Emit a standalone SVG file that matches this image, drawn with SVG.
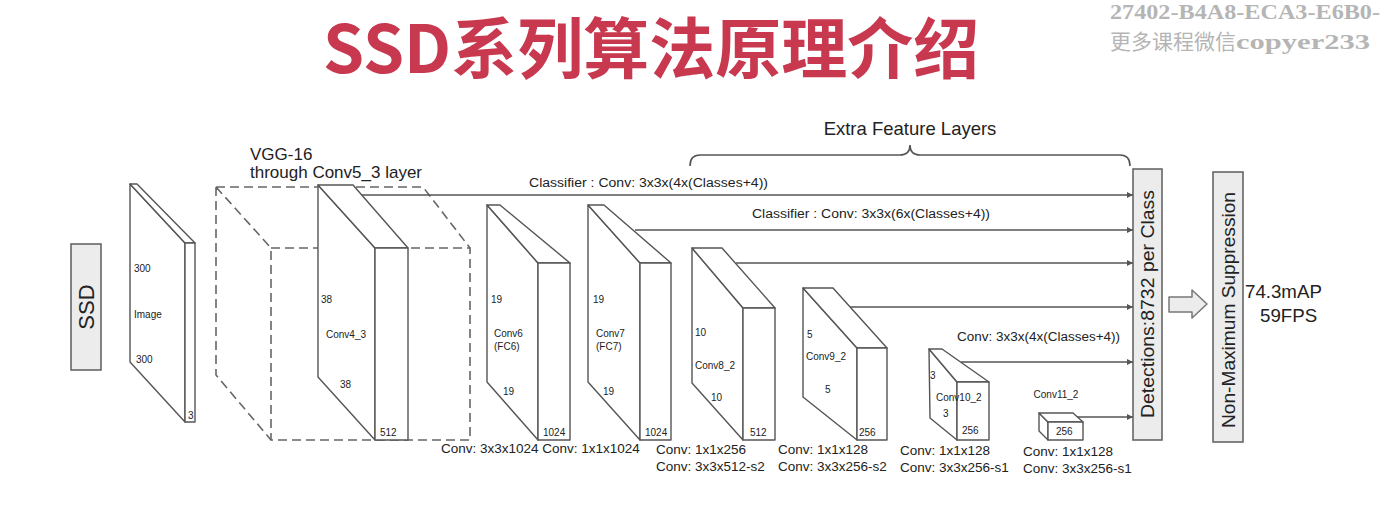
<svg xmlns="http://www.w3.org/2000/svg" width="1385" height="515" viewBox="0 0 1385 515">
  <style>
    .face { fill: #ffffff; stroke: #555; stroke-width: 1.4; stroke-linejoin: round; }
    .dash { fill: none; stroke: #666; stroke-width: 1.6; stroke-dasharray: 9 5; }
    .wire { fill: none; stroke: #555; stroke-width: 1.6; }
    .box { fill: #ececec; stroke: #666; stroke-width: 1.6; }
    .sm { font-family: "Liberation Sans", Arial, sans-serif; font-size: 10px; fill: #222; }
    .lbl { font-family: "Liberation Sans", Arial, sans-serif; font-size: 13.5px; fill: #222; }
    .cls { font-family: "Liberation Sans", Arial, sans-serif; font-size: 12px; fill: #222; }
    .big { font-family: "Liberation Sans", Arial, sans-serif; font-size: 18.7px; fill: #222; }
  </style>
  <defs>
    <marker id="arr" viewBox="0 0 10 10" refX="10" refY="5" markerWidth="7" markerHeight="6" markerUnits="userSpaceOnUse" orient="auto">
      <path d="M0,0 L10,5 L0,10 z" fill="#555"/>
    </marker>
  </defs>

  <rect width="1385" height="515" fill="#ffffff"/>

  <!-- heading -->
  <g id="title">
    <text x="323" y="73" font-family="'Noto Sans CJK SC', sans-serif" font-weight="700" font-size="66" fill="#c8384f">SSD系列算法原理介绍</text>
  </g>

  <!-- corner mark -->
  <g id="watermark" fill="#b5b5b5" font-weight="700">
    <text x="1110" y="19" font-family="'Liberation Serif', serif" font-size="22" textLength="270" lengthAdjust="spacingAndGlyphs">27402-B4A8-ECA3-E6B0-</text>
    <text x="1110" y="49" font-family="'Noto Sans CJK SC', sans-serif" font-weight="400" font-size="21">更多课程微信</text>
    <text x="1236" y="49" font-family="'Liberation Serif', serif" font-size="22" textLength="134" lengthAdjust="spacingAndGlyphs">copyer233</text>
  </g>

  <!-- SSD label box -->
  <g id="node-ssd">
    <rect class="box" x="71" y="244" width="30" height="126"/>
    <text transform="translate(94,307) rotate(-90)" text-anchor="middle" font-family="'Liberation Sans', Arial, sans-serif" font-size="22" fill="#222">SSD</text>
  </g>

  <!-- input image slab -->
  <g id="node-image">
    <polygon class="face" points="130,184 185,243 185,422 130,362"/>
    <polygon class="face" points="130,184 137,184 195,243 185,243"/>
    <rect class="face" x="185" y="243" width="10" height="179"/>
    <text class="sm" x="134" y="272">300</text>
    <text class="sm" x="134" y="318">Image</text>
    <text class="sm" x="136" y="363">300</text>
    <text class="sm" x="188" y="419">3</text>
  </g>

  <!-- VGG-16 base network -->
  <g id="node-vgg">
    <path class="dash" d="M216,187 L423,187 L470,248 M216,187 L271,248 M216,187 L216,375 L271,440"/>
    <rect class="dash" x="271" y="248" width="199" height="192"/>
    <text x="250" y="160" font-family="'Liberation Sans', Arial, sans-serif" font-size="17" fill="#222">VGG-16</text>
    <text x="250" y="178" font-family="'Liberation Sans', Arial, sans-serif" font-size="17" fill="#222">through Conv5_3 layer</text>
  </g>

  <g id="node-conv4_3">
    <polygon class="face" points="318,185 375,248 375,440 318,377"/>
    <polygon class="face" points="318,185 353,185 408,248 375,248"/>
    <rect class="face" x="375" y="248" width="33" height="192"/>
    <text class="sm" x="321" y="303">38</text>
    <text class="sm" x="326" y="338">Conv4_3</text>
    <text class="sm" x="340" y="388">38</text>
    <text class="sm" x="380" y="436">512</text>
  </g>

  <g id="node-conv6">
    <polygon class="face" points="487,205 538,263 538,440 487,382"/>
    <polygon class="face" points="487,205 500,205 570,263 538,263"/>
    <rect class="face" x="538" y="263" width="32" height="177"/>
    <text class="sm" x="491" y="303">19</text>
    <text class="sm" x="494" y="337">Conv6</text>
    <text class="sm" x="494" y="350">(FC6)</text>
    <text class="sm" x="503" y="395">19</text>
    <text class="sm" x="543" y="436">1024</text>
  </g>

  <g id="node-conv7">
    <polygon class="face" points="588,205 640,263 640,440 588,382"/>
    <polygon class="face" points="588,205 604,205 671,263 640,263"/>
    <rect class="face" x="640" y="263" width="31" height="177"/>
    <text class="sm" x="593" y="303">19</text>
    <text class="sm" x="596" y="337">Conv7</text>
    <text class="sm" x="596" y="350">(FC7)</text>
    <text class="sm" x="603" y="395">19</text>
    <text class="sm" x="645" y="436">1024</text>
  </g>

  <g id="node-conv8_2">
    <polygon class="face" points="692,248 743,308 743,440 692,383"/>
    <polygon class="face" points="692,248 722,248 775,308 743,308"/>
    <rect class="face" x="743" y="308" width="32" height="132"/>
    <text class="sm" x="695" y="336">10</text>
    <text class="sm" x="695" y="369">Conv8_2</text>
    <text class="sm" x="711" y="401">10</text>
    <text class="sm" x="750" y="436">512</text>
  </g>

  <g id="node-conv9_2">
    <polygon class="face" points="803,288 857,348 857,440 803,397"/>
    <polygon class="face" points="803,288 833,288 887,348 857,348"/>
    <rect class="face" x="857" y="348" width="30" height="92"/>
    <text class="sm" x="807" y="338">5</text>
    <text class="sm" x="806" y="360">Conv9_2</text>
    <text class="sm" x="825" y="393">5</text>
    <text class="sm" x="859" y="436">256</text>
  </g>

  <g id="node-conv10_2">
    <polygon class="face" points="929,349 957,382 957,440 930,418"/>
    <polygon class="face" points="929,349 942,349 989,382 957,382"/>
    <rect class="face" x="957" y="382" width="32" height="58"/>
    <text class="sm" x="930" y="379">3</text>
    <text class="sm" x="936" y="401">Conv10_2</text>
    <text class="sm" x="943" y="417">3</text>
    <text class="sm" x="962" y="434">256</text>
  </g>

  <g id="node-conv11_2">
    <polygon class="face" points="1039,413 1048,422 1048,440 1039,431"/>
    <polygon class="face" points="1039,413 1073,413 1083,422 1048,422"/>
    <rect class="face" x="1048" y="422" width="35" height="18"/>
    <text class="sm" x="1056" y="398" text-anchor="middle">Conv11_2</text>
    <text class="sm" x="1056" y="435">256</text>
  </g>

  <!-- detection collector and NMS -->
  <g id="node-detections">
    <rect class="box" x="1133" y="169" width="29" height="271"/>
    <text class="big" transform="translate(1154,304) rotate(-90)" text-anchor="middle" textLength="228" lengthAdjust="spacingAndGlyphs">Detections:8732  per Class</text>
  </g>

  <g id="node-nms">
    <rect class="box" x="1213" y="172" width="30" height="270"/>
    <text class="big" transform="translate(1235,310) rotate(-90)" text-anchor="middle" textLength="236" lengthAdjust="spacingAndGlyphs">Non-Maximum Suppression</text>
    <text class="big" x="1245" y="298">74.3mAP</text>
    <text class="big" x="1260" y="322">59FPS</text>
  </g>

  <!-- connectors: classifier outputs into the detection stack -->
  <g id="connectors">
    <line class="wire" x1="362" y1="195" x2="1133" y2="195" marker-end="url(#arr)"/>
    <line class="wire" x1="635" y1="230" x2="1133" y2="230" marker-end="url(#arr)"/>
    <line class="wire" x1="736" y1="263" x2="1133" y2="263" marker-end="url(#arr)"/>
    <line class="wire" x1="850" y1="307" x2="1133" y2="307" marker-end="url(#arr)"/>
    <line class="wire" x1="961" y1="362" x2="1133" y2="362" marker-end="url(#arr)"/>
    <line class="wire" x1="1077" y1="417" x2="1133" y2="417" marker-end="url(#arr)"/>
    <!-- block arrow from detections to NMS -->
    <polygon points="1169,297 1192,297 1192,290 1207,304 1192,318 1192,312 1169,312" fill="#ececec" stroke="#777" stroke-width="1.5" stroke-linejoin="round"/>
    <!-- brace over the extra feature layers -->
    <path class="wire" d="M690,166 Q690,155 700,155 L900,155 Q910,155 910,145 Q910,155 920,155 L1120,155 Q1130,155 1130,166"/>
  </g>

  <!-- connector and layer annotations -->
  <g id="labels">
    <text x="910" y="135" text-anchor="middle" font-family="'Liberation Sans', Arial, sans-serif" font-size="18.5" fill="#222">Extra Feature Layers</text>
    <text class="cls" x="529" y="187" textLength="239" lengthAdjust="spacingAndGlyphs">Classifier : Conv: 3x3x(4x(Classes+4))</text>
    <text class="cls" x="752" y="218" textLength="238" lengthAdjust="spacingAndGlyphs">Classifier : Conv: 3x3x(6x(Classes+4))</text>
    <text class="cls" x="957" y="341" textLength="163" lengthAdjust="spacingAndGlyphs">Conv: 3x3x(4x(Classes+4))</text>

    <text class="lbl" x="441" y="453">Conv: 3x3x1024 Conv: 1x1x1024</text>
    <text class="lbl" x="656" y="454">Conv: 1x1x256</text>
    <text class="lbl" x="656" y="471">Conv: 3x3x512-s2</text>
    <text class="lbl" x="778" y="454">Conv: 1x1x128</text>
    <text class="lbl" x="778" y="471">Conv: 3x3x256-s2</text>
    <text class="lbl" x="900" y="455">Conv: 1x1x128</text>
    <text class="lbl" x="900" y="472">Conv: 3x3x256-s1</text>
    <text class="lbl" x="1023" y="456">Conv: 1x1x128</text>
    <text class="lbl" x="1023" y="473">Conv: 3x3x256-s1</text>
  </g>
</svg>
